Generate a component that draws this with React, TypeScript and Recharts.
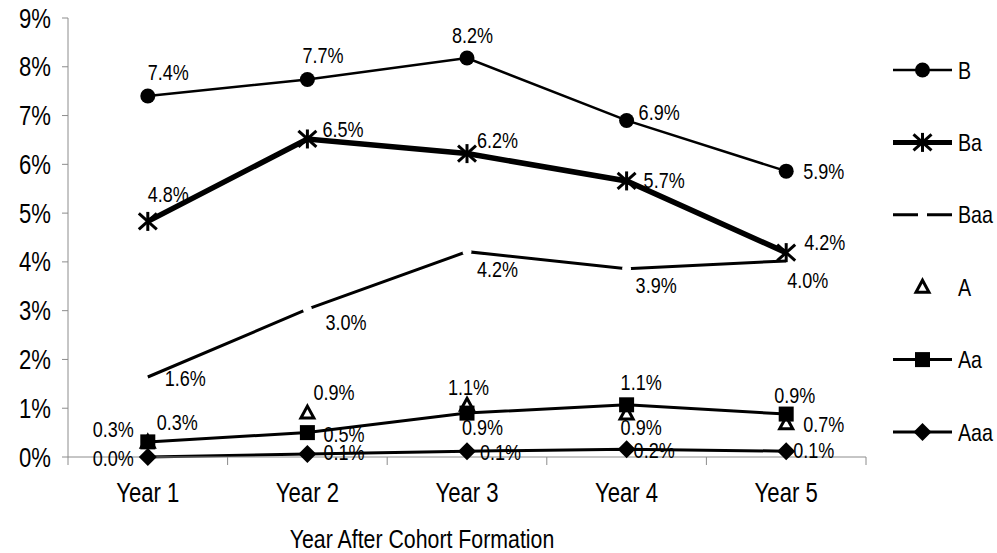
import { LineChart, Line, XAxis, YAxis, LabelList } from "recharts";

// chart fills the whole 997x553 page
const CHART_WIDTH = 997;
const CHART_HEIGHT = 553;
const MARGIN = { top: 18, right: 131, bottom: 0, left: 8 };
const Y_AXIS_WIDTH = 60;
const PLOT_WIDTH = CHART_WIDTH - MARGIN.left - MARGIN.right - Y_AXIS_WIDTH;
const FONT = "'Liberation Sans', Arial, sans-serif";
const NARROW = 0.82; // Arial Narrow look
const AXIS_GREY = "#8c8c8c";

// data (percent)
const years = ["Year 1", "Year 2", "Year 3", "Year 4", "Year 5"];
const seriesB = [7.4, 7.74, 8.18, 6.9, 5.86];
const seriesBa = [4.83, 6.52, 6.22, 5.66, 4.19];
const seriesBaa = [1.64, 3.03, 4.21, 3.86, 4.02];
const seriesA = [0.3, 0.9, 1.06, 0.88, 0.68];
const seriesAa = [0.31, 0.5, 0.9, 1.07, 0.88];
const seriesAaa = [0.0, 0.06, 0.12, 0.16, 0.12];
const yTicks = [0, 1, 2, 3, 4, 5, 6, 7, 8, 9];
const legendNames = ["B", "Ba", "Baa", "A", "Aa", "Aaa"];
const xTitle = "Year After Cohort Formation";

const data = years.map((year, i) => ({
  year,
  B: seriesB[i],
  Ba: seriesBa[i],
  Baa: seriesBaa[i],
  A: seriesA[i],
  Aa: seriesAa[i],
  Aaa: seriesAaa[i],
}));

// label placement (dx, dy to baseline) like the Excel original
const labelOffsets: Record<string, [number, number][]> = {
  B: [[0, -16], [-5, -16], [-15, -15], [12, 0], [17, 8]],
  Ba: [[0, -19], [15, -2], [10, -6], [17, 7], [18, -3]],
  Baa: [[17, 9], [18, 21], [10, 25], [9, 24], [1, 27]],
  A: [[9, -12], [6, -13], [-19, -10], [-6, 21], [17, 8]],
  Aa: [[-55, -5], [16, 9], [-5, 22], [-6, -15], [-12, -11]],
  Aaa: [[-55, 9], [16, 6], [13, 9], [7, 9], [7, 7]],
};

function NarrowText({ x, y, size, anchor = "start", children }: any) {
  return (
    <text
      transform={`translate(${x},${y}) scale(${NARROW},1)`}
      x={0}
      y={0}
      fontSize={size}
      fontFamily={FONT}
      fill="#000"
      textAnchor={anchor}
    >
      {children}
    </text>
  );
}

const makeLabel = (name: string) => (props: any) => {
  const { x, y, value, index } = props;
  const off = labelOffsets[name][index] || [0, 0];
  return (
    <NarrowText x={x + off[0]} y={y + off[1]} size={22}>
      {`${Number(value).toFixed(1)}%`}
    </NarrowText>
  );
};

// markers
function CircleMark({ cx, cy }: any) {
  return <circle cx={cx} cy={cy} r={7.5} fill="#000" />;
}
function StarMark({ cx, cy }: any) {
  return (
    <g stroke="#000" strokeWidth={3}>
      <line x1={cx} y1={cy - 9.5} x2={cx} y2={cy + 9.5} />
      <line x1={cx - 9} y1={cy - 8} x2={cx + 9} y2={cy + 8} />
      <line x1={cx - 9} y1={cy + 8} x2={cx + 9} y2={cy - 8} />
    </g>
  );
}
function TriangleMark({ cx, cy }: any) {
  return (
    <polygon
      points={`${cx},${cy - 7} ${cx + 6.5},${cy + 5} ${cx - 6.5},${cy + 5}`}
      fill="#fff"
      stroke="#000"
      strokeWidth={3}
    />
  );
}
function SquareMark({ cx, cy }: any) {
  return <rect x={cx - 7.5} y={cy - 7.5} width={15} height={15} fill="#000" />;
}
function DiamondMark({ cx, cy }: any) {
  return (
    <polygon
      points={`${cx},${cy - 9} ${cx + 9},${cy} ${cx},${cy + 9} ${cx - 9},${cy}`}
      fill="#000"
    />
  );
}
// white breaks in the long-dash line at inner points
function GapMark({ cx, cy, index }: any) {
  if (index === 0 || index === years.length - 1) return <g />;
  return <circle cx={cx} cy={cy} r={4.5} fill="#fff" />;
}

const dotFn = (Comp: any) => (props: any) => <Comp key={props.index} {...props} />;

function XTick({ x, y, payload, index }: any) {
  const half = PLOT_WIDTH / years.length / 2;
  return (
    <g>
      <line x1={x - half} y1={y} x2={x - half} y2={y + 8} stroke={AXIS_GREY} />
      {index === years.length - 1 && (
        <line x1={x + half} y1={y} x2={x + half} y2={y + 8} stroke={AXIS_GREY} />
      )}
      <NarrowText x={x} y={y + 45} size={27} anchor="middle">
        {payload.value}
      </NarrowText>
    </g>
  );
}

function YTick({ x, y, payload }: any) {
  return (
    <NarrowText x={x} y={y + 9.5} size={27} anchor="end">
      {`${payload.value}%`}
    </NarrowText>
  );
}

function XTitle({ viewBox }: any) {
  const cx = viewBox.x + viewBox.width / 2 - 45;
  return (
    <NarrowText x={cx} y={viewBox.y + 91} size={26} anchor="middle">
      {xTitle}
    </NarrowText>
  );
}

function LegendSample({ name, index }: { name: string; index: number }) {
  const x1 = 893;
  const x2 = 952;
  const mid = (x1 + x2) / 2;
  const y = 70 + index * 72.4;
  let sample: any = null;
  if (name === "B")
    sample = (
      <>
        <line x1={x1} y1={y} x2={x2} y2={y} stroke="#000" strokeWidth={2.5} />
        <CircleMark cx={mid} cy={y} />
      </>
    );
  if (name === "Ba")
    sample = (
      <>
        <line x1={x1} y1={y} x2={x2} y2={y} stroke="#000" strokeWidth={5} />
        <StarMark cx={mid} cy={y} />
      </>
    );
  if (name === "Baa")
    sample = <line x1={x1} y1={y} x2={x2} y2={y} stroke="#000" strokeWidth={3} strokeDasharray="25 9" />;
  if (name === "A") sample = <TriangleMark cx={mid} cy={y} />;
  if (name === "Aa")
    sample = (
      <>
        <line x1={x1} y1={y} x2={x2} y2={y} stroke="#000" strokeWidth={3} />
        <SquareMark cx={mid} cy={y} />
      </>
    );
  if (name === "Aaa")
    sample = (
      <>
        <line x1={x1} y1={y} x2={x2} y2={y} stroke="#000" strokeWidth={3} />
        <DiamondMark cx={mid} cy={y} />
      </>
    );
  return (
    <g>
      {sample}
      <NarrowText x={x2 + 6} y={y + 8.5} size={24}>
        {name}
      </NarrowText>
    </g>
  );
}

export default function App() {
  return (
    <div
      style={{
        position: "fixed",
        left: 0,
        top: 0,
        width: CHART_WIDTH,
        height: CHART_HEIGHT,
        background: "#fff",
      }}
    >
      <LineChart width={CHART_WIDTH} height={CHART_HEIGHT} data={data} margin={MARGIN}>
        <XAxis
          dataKey="year"
          scale="band"
          height={96}
          tickSize={0}
          tickMargin={0}
          tickLine={false}
          axisLine={{ stroke: AXIS_GREY }}
          tick={<XTick />}
          interval={0}
          label={<XTitle />}
        />
        <YAxis
          width={Y_AXIS_WIDTH}
          domain={[0, 9]}
          ticks={yTicks}
          interval={0}
          tickSize={6}
          tickMargin={11}
          tickLine={{ stroke: AXIS_GREY }}
          axisLine={{ stroke: AXIS_GREY }}
          tick={<YTick />}
        />
        <Line
          dataKey="Baa"
          type="linear"
          stroke="#000"
          strokeWidth={3}
          dot={dotFn(GapMark)}
          activeDot={false}
          isAnimationActive={false}
        >
          <LabelList dataKey="Baa" content={makeLabel("Baa")} />
        </Line>
        <Line
          dataKey="Aaa"
          type="linear"
          stroke="#000"
          strokeWidth={3}
          dot={dotFn(DiamondMark)}
          activeDot={false}
          isAnimationActive={false}
        >
          <LabelList dataKey="Aaa" content={makeLabel("Aaa")} />
        </Line>
        <Line
          dataKey="A"
          type="linear"
          stroke="none"
          dot={dotFn(TriangleMark)}
          activeDot={false}
          isAnimationActive={false}
        >
          <LabelList dataKey="A" content={makeLabel("A")} />
        </Line>
        <Line
          dataKey="Aa"
          type="linear"
          stroke="#000"
          strokeWidth={3}
          dot={dotFn(SquareMark)}
          activeDot={false}
          isAnimationActive={false}
        >
          <LabelList dataKey="Aa" content={makeLabel("Aa")} />
        </Line>
        <Line
          dataKey="Ba"
          type="linear"
          stroke="#000"
          strokeWidth={5.5}
          dot={dotFn(StarMark)}
          activeDot={false}
          isAnimationActive={false}
        >
          <LabelList dataKey="Ba" content={makeLabel("Ba")} />
        </Line>
        <Line
          dataKey="B"
          type="linear"
          stroke="#000"
          strokeWidth={2.5}
          dot={dotFn(CircleMark)}
          activeDot={false}
          isAnimationActive={false}
        >
          <LabelList dataKey="B" content={makeLabel("B")} />
        </Line>
      </LineChart>
      <svg
        width={CHART_WIDTH}
        height={CHART_HEIGHT}
        style={{ position: "absolute", left: 0, top: 0, pointerEvents: "none" }}
      >
        {legendNames.map((n, i) => (
          <LegendSample key={n} name={n} index={i} />
        ))}
      </svg>
    </div>
  );
}
